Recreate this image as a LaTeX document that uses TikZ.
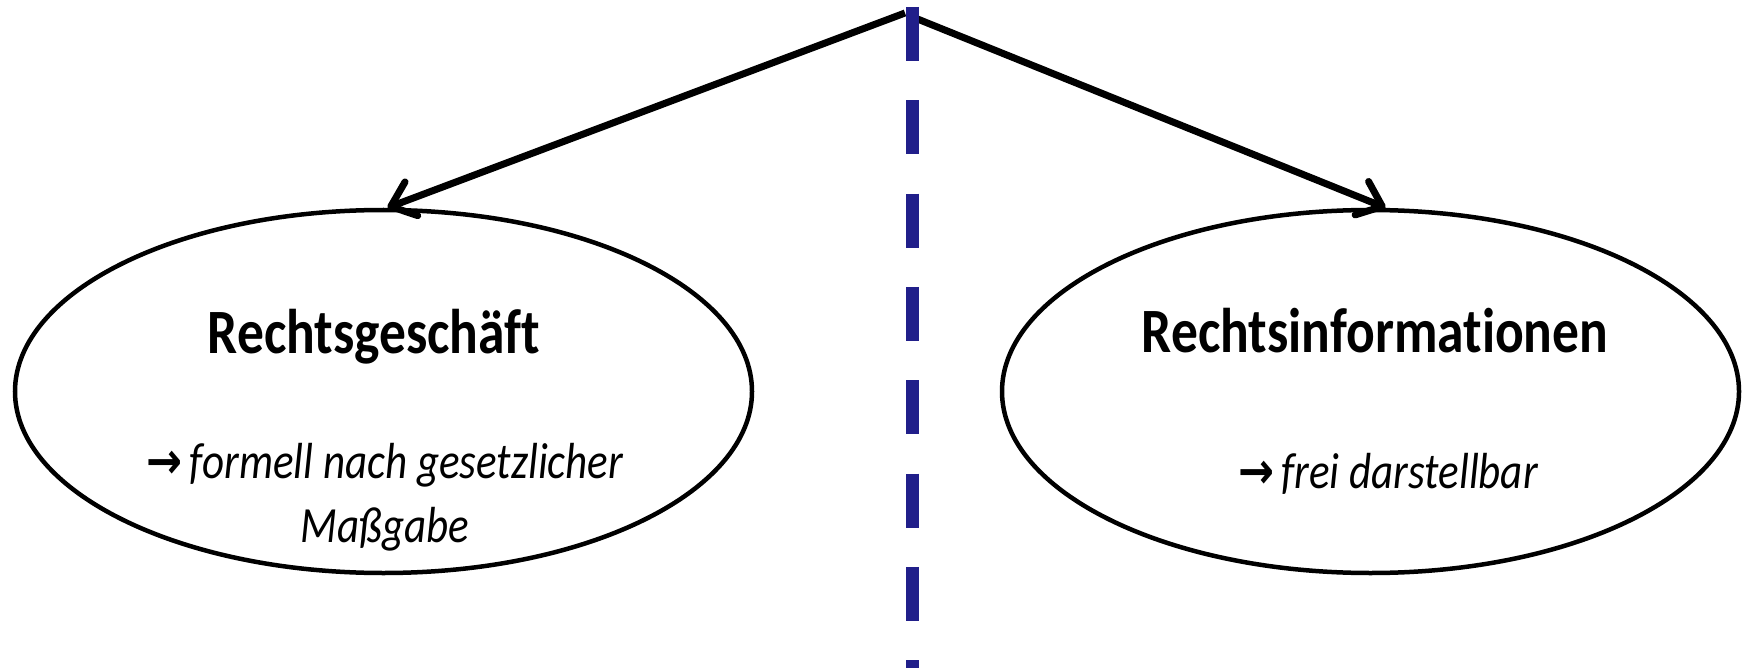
\documentclass[tikz,border=0pt]{standalone}
\usepackage{graphicx}
\usepackage{fontspec}
\setmainfont{Carlito}[Ligatures=NoCommon]
\newfontfamily\arrowfont{DejaVu Sans}
\usetikzlibrary{shapes.geometric,arrows.meta}
\definecolor{divblue}{RGB}{33,31,138}
\newcommand{\vs}[1]{\scalebox{1}[1.18]{#1}}
\newcommand{\rarr}{{\arrowfont\bfseries →}}
\begin{document}
\begin{tikzpicture}[x=1pt,y=-1pt,
  oval/.style={ellipse,draw=black,line width=4.5pt,minimum width=737pt,minimum height=363pt,inner sep=0pt},
  titletext/.style={anchor=base,inner sep=0pt,font=\fontsize{53.5}{64}\selectfont\bfseries},
  subtext/.style={anchor=base,inner sep=0pt,font=\fontsize{43}{52}\selectfont\itshape},
  conn/.style={line width=7pt,-{Straight Barb[length=22pt,width=36pt,round]}},
  divider/.style={draw=divblue,line width=13pt,dash pattern=on 54pt off 39.3pt}]
\useasboundingbox[fill=white] (0,0) rectangle (1752,668);
\node[oval] (L) at (383.5,391.5) {};
\node[oval] (R) at (1370.5,391.5) {};
\node[titletext] (Lt) at (374,353) {\vs{Rechtsgeschäft}};
\node[titletext] (Rt) at (1375,352) {\vs{Rechtsinformationen}};
\node[subtext] (Ls1) at (385,478) {\vs{\rarr\,formell nach gesetzlicher}};
\node[subtext] (Ls2) at (385,542) {\vs{Maßgabe}};
\node[subtext] (Rs) at (1388,488) {\vs{\rarr\,frei darstellbar}};
\coordinate (apexL) at (905,13);
\coordinate (apexR) at (915,18);
\coordinate (divtop) at (912,7);
\coordinate (divbot) at (912,668);
\draw[conn] (apexL) -- ([xshift=4pt]L.north);
\draw[conn] (apexR) -- ([xshift=15pt]R.north);
\draw[divider] (divtop) -- (divbot);
\end{tikzpicture}
\end{document}
